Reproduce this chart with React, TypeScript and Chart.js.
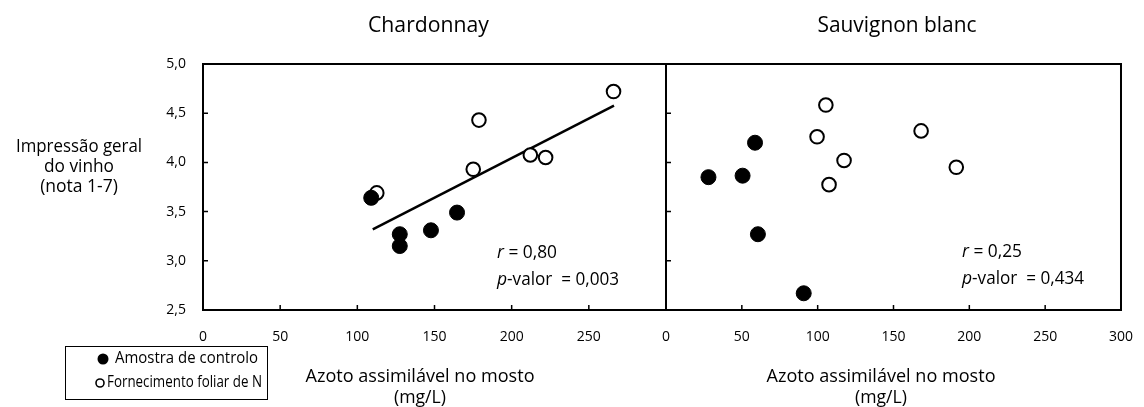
import React, { useEffect, useRef } from 'react';
import { Chart, registerables } from 'chart.js';
Chart.register(...registerables);

const FONT = '"Open Sans", sans-serif';

const xTicks = [0, 50, 100, 150, 200, 250, 300];
const yTicks = [2.5, 3.0, 3.5, 4.0, 4.5, 5.0];

const chardControlX = [109, 127.5, 127.5, 147.7, 164.6];
const chardControlY = [3.64, 3.27, 3.15, 3.31, 3.49];
const chardFoliarX = [112.6, 175.1, 178.8, 212.1, 222, 266];
const chardFoliarY = [3.69, 3.93, 4.43, 4.075, 4.05, 4.72];
const chardTrendX = [110, 266.3];
const chardTrendY = [3.32, 4.577];

const sauvControlX = [28, 50.5, 58.7, 60.6, 90.8];
const sauvControlY = [3.85, 3.865, 4.2, 3.27, 2.67];
const sauvFoliarX = [105.4, 99.6, 117.4, 107.5, 168.2, 191.4];
const sauvFoliarY = [4.583, 4.26, 4.02, 3.774, 4.32, 3.95];

const panelTitles = ['Chardonnay', 'Sauvignon blanc'];
const xTitleLines = ['Azoto assimilável no mosto', '(mg/L)'];
const yTitleLines = ['Impressão geral', 'do vinho', '(nota 1-7)'];
const legendLabels = ['Amostra de controlo', 'Fornecimento foliar de N'];
const statsChard = ['0,80', '0,003'];
const statsSauv = ['0,25', '0,434'];

const pts = (xs: number[], ys: number[]) => xs.map((x, i) => ({ x, y: ys[i] }));

function txt(ctx: any, s: string, x: number, y: number, size: number, align: string, maxW?: number, italic = false) {
  ctx.font = `${italic ? 'italic ' : ''}${size}px ${FONT}`;
  ctx.textAlign = align;
  ctx.textBaseline = 'middle';
  ctx.fillStyle = '#000';
  const w = ctx.measureText(s).width;
  if (maxW && w > maxW) ctx.fillText(s, x, y, maxW);
  else ctx.fillText(s, x, y);
}

function frameAndTicks(chart: any) {
  const { ctx, chartArea: a, scales } = chart;
  ctx.save();
  ctx.strokeStyle = '#000';
  ctx.lineWidth = 2;
  ctx.strokeRect(a.left, a.top, a.right - a.left, a.bottom - a.top);
  ctx.beginPath();
  ctx.lineWidth = 1.5;
  yTicks.forEach((v) => {
    const y = scales.y.getPixelForValue(v);
    ctx.moveTo(a.left, y);
    ctx.lineTo(a.left + 5, y);
  });
  xTicks.forEach((v) => {
    const x = scales.x.getPixelForValue(v);
    ctx.moveTo(x, a.bottom);
    ctx.lineTo(x, a.bottom - 5);
  });
  ctx.stroke();
  ctx.restore();
}

function drawStats(ctx: any, x: number, y1: number, y2: number, vals: string[]) {
  ctx.save();
  const size = 17.5;
  txt(ctx, 'r', x, y1, size, 'left', undefined, true);
  let w = ctx.measureText('r').width;
  txt(ctx, ' = ' + vals[0], x + w, y1, size, 'left', 60 - w);
  txt(ctx, 'p', x, y2, size, 'left', undefined, true);
  w = ctx.measureText('p').width;
  txt(ctx, '-valor  = ' + vals[1], x + w, y2, size, 'left', 122 - w);
  ctx.restore();
}

function drawCommon(ctx: any, title: string, cx: number, axisCx: number) {
  ctx.save();
  txt(ctx, title, cx, 26, 22, 'center', title === panelTitles[0] ? 121 : 159);
  txt(ctx, xTitleLines[0], axisCx, 377, 18.5, 'center', 229);
  txt(ctx, xTitleLines[1], axisCx, 398, 18.5, 'center', 52);
  ctx.restore();
}

const leftPlugin = {
  id: 'leftDecor',
  afterDraw(chart: any) {
    const ctx = chart.ctx;
    frameAndTicks(chart);
    drawCommon(ctx, panelTitles[0], 428.5, 420);
    drawStats(ctx, 497, 253, 280, statsChard);
    ctx.save();
    const yw = [126, 70, 84];
    yTitleLines.forEach((t, i) => txt(ctx, t, 79, 147 + i * 20, 17.5, 'center', yw[i]));
    // legend
    ctx.strokeStyle = '#000';
    ctx.lineWidth = 1;
    ctx.strokeRect(65.5, 346.5, 202, 53);
    ctx.fillStyle = '#000';
    ctx.beginPath();
    ctx.arc(103, 359, 5.5, 0, Math.PI * 2);
    ctx.fill();
    ctx.beginPath();
    ctx.lineWidth = 1.6;
    ctx.arc(100, 383, 4, 0, Math.PI * 2);
    ctx.stroke();
    txt(ctx, legendLabels[0], 115, 359, 15.5, 'left', 143);
    txt(ctx, legendLabels[1], 107, 383, 15.5, 'left', 155);
    ctx.restore();
  },
};

const rightPlugin = {
  id: 'rightDecor',
  afterDraw(chart: any) {
    const ctx = chart.ctx;
    frameAndTicks(chart);
    // canvas offset 600
    drawCommon(ctx, panelTitles[1], 897 - 600, 881 - 600);
    drawStats(ctx, 962 - 600, 252, 279, statsSauv);
  },
};

function makeConfig(
  control: { x: number; y: number }[],
  foliar: { x: number; y: number }[],
  trend: { x: number; y: number }[] | null,
  isLeft: boolean,
  plugin: any
): any {
  const datasets: any[] = [
    {
      type: 'scatter',
      label: legendLabels[0],
      data: control,
      backgroundColor: '#000',
      borderColor: '#000',
      borderWidth: 1,
      pointRadius: 7.5,
      order: 0,
    },
    {
      type: 'scatter',
      label: legendLabels[1],
      data: foliar,
      backgroundColor: '#fff',
      borderColor: '#000',
      borderWidth: 2,
      pointRadius: 6.8,
      order: 1,
    },
  ];
  if (trend) {
    datasets.push({
      type: 'line',
      label: 'tendência',
      data: trend,
      borderColor: '#000',
      borderWidth: 2.5,
      pointRadius: 0,
      fill: false,
      order: 5,
    });
  }
  return {
    type: 'scatter',
    data: { datasets },
    options: {
      animation: false,
      responsive: false,
      maintainAspectRatio: false,
      layout: { padding: { top: 64, right: isLeft ? 14 : 13, left: 0, bottom: 0 } },
      plugins: { legend: { display: false }, tooltip: { enabled: false } },
      scales: {
        x: {
          type: 'linear',
          min: 0,
          max: 300,
          afterBuildTicks: (s: any) => {
            s.ticks = xTicks.map((v) => ({ value: v }));
          },
          afterFit: (s: any) => {
            s.height = 97;
          },
          grid: { display: false },
          border: { display: false },
          ticks: {
            padding: 11,
            color: '#000',
            autoSkip: false,
            maxRotation: 0,
            font: { family: FONT, size: 14 },
            callback: (v: any) => (isLeft && v === 300 ? '' : String(v)),
          },
        },
        y: {
          type: 'linear',
          min: 2.5,
          max: 5,
          afterBuildTicks: (s: any) => {
            s.ticks = yTicks.map((v) => ({ value: v }));
          },
          afterFit: (s: any) => {
            s.width = isLeft ? 203 : 66;
          },
          grid: { display: false },
          border: { display: false },
          ticks: {
            display: isLeft,
            padding: 9,
            color: '#000',
            font: { family: FONT, size: 14 },
            callback: (v: any) => Number(v).toFixed(1).replace('.', ','),
          },
        },
      },
    },
    plugins: [plugin],
  };
}

export default function App() {
  const leftRef = useRef<HTMLCanvasElement>(null);
  const rightRef = useRef<HTMLCanvasElement>(null);

  useEffect(() => {
    const c1 = new Chart(
      leftRef.current as HTMLCanvasElement,
      makeConfig(
        pts(chardControlX, chardControlY),
        pts(chardFoliarX, chardFoliarY),
        pts(chardTrendX, chardTrendY),
        true,
        leftPlugin
      )
    );
    const c2 = new Chart(
      rightRef.current as HTMLCanvasElement,
      makeConfig(pts(sauvControlX, sauvControlY), pts(sauvFoliarX, sauvFoliarY), null, false, rightPlugin)
    );
    return () => {
      c1.destroy();
      c2.destroy();
    };
  }, []);

  return (
    <div style={{ position: 'absolute', left: 0, top: 0, width: 1144, height: 407, background: '#fff' }}>
      <canvas
        ref={leftRef}
        width={680}
        height={407}
        style={{ position: 'absolute', left: 0, top: 0, width: 680, height: 407 }}
      />
      <canvas
        ref={rightRef}
        width={544}
        height={407}
        style={{ position: 'absolute', left: 600, top: 0, width: 544, height: 407 }}
      />
    </div>
  );
}
